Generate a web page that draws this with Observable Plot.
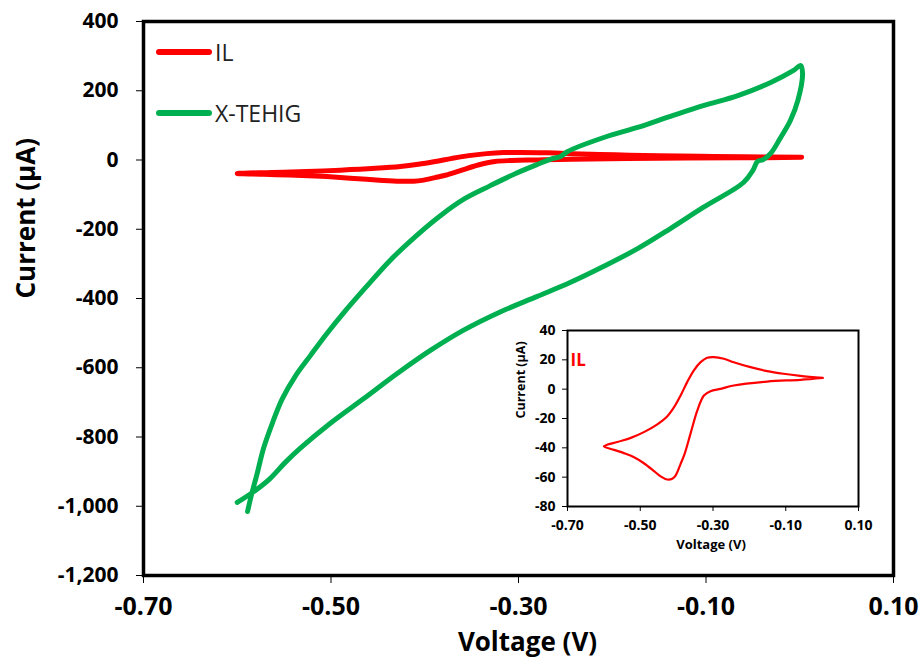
<!DOCTYPE html>
<html><head><meta charset="utf-8">
<script src="https://cdn.jsdelivr.net/npm/d3@7"></script>
<script src="https://cdn.jsdelivr.net/npm/@observablehq/plot@0.6"></script>
<style>
html,body{margin:0;padding:0;background:#fff;}
#wrap{position:relative;width:923px;height:665px;overflow:hidden;font-family:"Open Sans",sans-serif;background:#fff;}
#main,#inset,#legend{position:absolute;}
#main{left:0;top:0;}
#inset{left:500px;top:320px;}
#legend{left:0;top:0;}
.item{position:absolute;display:flex;align-items:center;height:32px;white-space:nowrap;}
.swatch{width:56px;height:5.5px;border-radius:3px;margin-right:3px;flex:none;}
.lab{font-size:23px;line-height:32px;color:#222;white-space:nowrap;}
</style></head><body>
<div id="wrap"><div id="main"></div><div id="inset"></div><div id="legend"></div></div>
<script>
// ---- data ----
const seriesNames = ["IL", "X-TEHIG"];
const seriesColors = ["#ff0000", "#00b050"];

// IL (ionic liquid) cyclic voltammogram: voltage (V) and current (µA)
const ilV = [0.002, -0.060, -0.106, -0.151, -0.197, -0.243, -0.270, -0.298, -0.316, -0.334, -0.353, -0.371, -0.389, -0.407, -0.426, -0.453, -0.490, -0.526, -0.563, -0.600,
             -0.572, -0.545, -0.517, -0.490, -0.462, -0.444, -0.426, -0.412, -0.403, -0.389, -0.378, -0.362, -0.343, -0.325, -0.307, -0.279, -0.243, -0.151, -0.060, 0.002];
const ilI = [7.7, 9.1, 10.5, 12.3, 15, 18.4, 20.7, 21.8, 21.4, 18.4, 12.7, 4.8, -4.3, -12.3, -18.6, -24, -29.3, -33.2, -36, -39,
             -41.4, -43.6, -46.4, -50.5, -55.9, -59.5, -61.6, -61.1, -58.9, -50.9, -44.1, -30.5, -14.5, -4.3, -1.4, 0.2, 2.5, 5.2, 6.4, 7.7];

// X-TEHIG cyclic voltammogram
const tehigV = [-0.589, -0.585, -0.579, -0.572, -0.562, -0.552, -0.538, -0.522, -0.506, -0.487, -0.463, -0.437, -0.410, -0.383, -0.357, -0.330, -0.303, -0.280, -0.264, -0.255, -0.248,
                -0.209, -0.173, -0.138, -0.103, -0.066, -0.031, -0.007, 0.001,
                0.003, -0.002, -0.010, -0.021, -0.031, -0.039, -0.045, -0.050, -0.060,
                -0.103, -0.138, -0.173, -0.209, -0.245, -0.280, -0.319, -0.359, -0.394, -0.429, -0.465, -0.501, -0.533, -0.549, -0.565, -0.581, -0.600];
const tehigI = [-1015, -969, -908, -833, -756, -690, -624, -565, -507, -443, -368, -290, -221, -160, -111, -74, -39, -13, 4, 10, 24,
                65, 94, 126, 157, 186, 224, 258, 273,
                250, 172, 114, 62, 19, 1, -4, -30, -65,
                -137, -198, -256, -307, -354, -394, -438, -492, -550, -616, -689, -761, -833, -874, -920, -955, -989];

const xTicks = [-0.7, -0.5, -0.3, -0.1, 0.1];
const yTicks = [400, 200, 0, -200, -400, -600, -800, -1000, -1200];
const insetYTicks = [40, 20, 0, -20, -40, -60, -80];
const xTitle = "Voltage (V)";
const yTitle = "Current (µA)";
const insetLabel = "IL";

const ilData = ilV.map((v, k) => ({v, i: ilI[k]}));
const tehigData = tehigV.map((v, k) => ({v, i: tehigI[k]}));
const fmtX = d => d.toFixed(2);
const fmtY = d => d.toLocaleString("en-US");

// ---- main chart ----
const main = Plot.plot({
  width: 923, height: 665,
  marginLeft: 143, marginRight: 30, marginTop: 21, marginBottom: 90,
  x: {domain: [-0.7, 0.1]},
  y: {domain: [-1200, 400]},
  style: {fontFamily: "Open Sans", fontWeight: "bold", color: "black", background: "white"},
  marks: [
    Plot.axisY({ticks: yTicks, tickSize: 7, tickPadding: 18, fontSize: 21, tickFormat: fmtY, label: null}),
    Plot.axisX({ticks: xTicks, tickSize: 8, tickPadding: 14, fontSize: 25, tickFormat: fmtX, label: null}),
    Plot.line(ilData, {x: "v", y: "i", stroke: seriesColors[0], strokeWidth: 5, curve: "catmull-rom", strokeLinecap: "round", strokeLinejoin: "round"}),
    Plot.line(tehigData, {x: "v", y: "i", stroke: seriesColors[1], strokeWidth: 5, curve: "catmull-rom", strokeLinecap: "round", strokeLinejoin: "round"}),
    Plot.frame({stroke: "black", strokeWidth: 3.5}),
    Plot.text([yTitle], {text: d => d, frameAnchor: "left", dx: -117, rotate: -90, fontSize: 26, fill: "black"}),
    Plot.text([xTitle], {text: d => d, frameAnchor: "bottom", dx: 9, dy: 75, fontSize: 26, fill: "black"})
  ]
});
document.getElementById("main").appendChild(main);

// ---- inset ----
const inset = Plot.plot({
  width: 400, height: 245,
  marginLeft: 67, marginRight: 42, marginTop: 10, marginBottom: 59,
  x: {domain: [-0.7, 0.1]},
  y: {domain: [-80, 40]},
  style: {fontFamily: "Open Sans", fontWeight: "bold", color: "black", background: "transparent"},
  marks: [
    Plot.frame({fill: "white"}),
    Plot.axisY({ticks: insetYTicks, tickSize: 5, tickPadding: 7, fontSize: 14, tickFormat: d => String(d), label: null}),
    Plot.axisX({ticks: xTicks, tickSize: 5, tickPadding: 9, fontSize: 14, tickFormat: fmtX, label: null}),
    Plot.line(ilData, {x: "v", y: "i", stroke: seriesColors[0], strokeWidth: 2.2, curve: "catmull-rom"}),
    Plot.frame({stroke: "black", strokeWidth: 2}),
    Plot.text([insetLabel], {text: d => d, frameAnchor: "top-left", dx: 3, dy: 23, fill: seriesColors[0], fontSize: 17, textAnchor: "start"}),
    Plot.text([yTitle], {text: d => d, frameAnchor: "left", dx: -47, rotate: -90, fontSize: 12.5, fill: "black"}),
    Plot.text([xTitle], {text: d => d, frameAnchor: "bottom", dx: -2, dy: 42, fontSize: 13, fill: "black"})
  ]
});
document.getElementById("inset").appendChild(inset);

// ---- legend (inside the main plot area) ----
const legend = document.getElementById("legend");
const legendTops = [36, 97];
seriesNames.forEach((name, k) => {
  const item = document.createElement("div");
  item.className = "item";
  item.style.left = "156px";
  item.style.top = legendTops[k] + "px";
  const sw = document.createElement("div");
  sw.className = "swatch";
  sw.style.background = seriesColors[k];
  const lab = document.createElement("span");
  lab.className = "lab";
  lab.textContent = name;
  item.appendChild(sw); item.appendChild(lab);
  legend.appendChild(item);
});
</script>
</body></html>
